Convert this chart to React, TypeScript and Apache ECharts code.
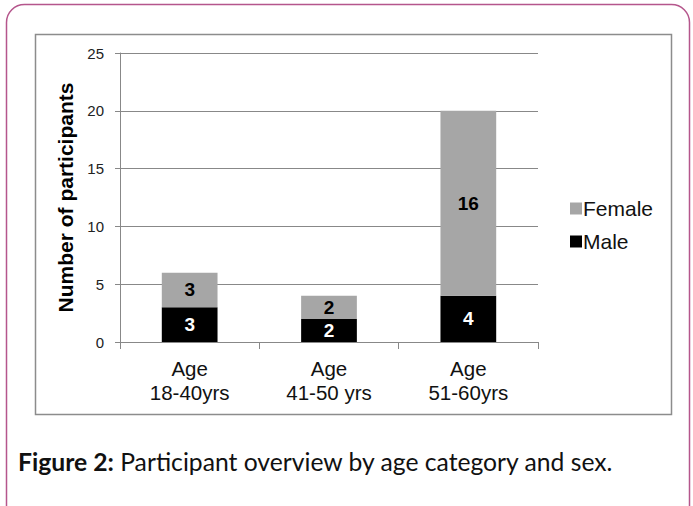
import React, { useEffect, useRef } from "react";
import * as echarts from "echarts";

const categories = ["Age\n18-40yrs", "Age\n41-50 yrs", "Age\n51-60yrs"];
const maleValues = [3, 2, 4];
const femaleValues = [3, 2, 16];
const seriesNames = ["Male", "Female"];
const captionBold = "Figure 2:";
const captionText = " Participant overview by age category and sex.";

export default function App() {
  const ref = useRef<HTMLDivElement>(null);
  useEffect(() => {
    if (!ref.current) return;
    const chart = echarts.init(ref.current, undefined, { renderer: "svg" });
    const font = "'Liberation Sans', Arial, sans-serif";
    chart.setOption({
      animation: false,
      backgroundColor: "#ffffff",
      textStyle: { fontFamily: font },
      graphic: [
        {
          type: "rect",
          shape: { x: 6.5, y: 4.5, width: 683, height: 520, r: 18 },
          style: { fill: "none", stroke: "#b5568c", lineWidth: 1.5 },
          z: 0,
        },
        {
          type: "rect",
          shape: { x: 35.5, y: 34.5, width: 636, height: 380 },
          style: { fill: "none", stroke: "#8c8c8c", lineWidth: 1.5 },
          z: 0,
        },
        {
          type: "text",
          x: 18,
          y: 461,
          style: {
            text: `{b|${captionBold}}{n|${captionText}}`,
            verticalAlign: "middle",
            rich: {
              b: { fontFamily: "Lato, 'Open Sans', sans-serif", fontWeight: "bold", fontSize: 24.7, fill: "#111" },
              n: { fontFamily: "Lato, 'Open Sans', sans-serif", fontSize: 24.7, fill: "#111" },
            },
          },
        },
      ],
      legend: {
        orient: "vertical",
        left: 565,
        top: 193,
        data: ["Female", "Male"],
        icon: "rect",
        itemWidth: 12,
        itemHeight: 12,
        itemGap: 12,
        textStyle: { fontSize: 21, color: "#111", fontFamily: font, padding: [0, 0, 0, -4] },
      },
      grid: { left: 120, right: 155, top: 53, bottom: 164, containLabel: false },
      xAxis: {
        type: "category",
        data: categories,
        axisLine: { lineStyle: { color: "#888", width: 1 } },
        axisTick: { show: true, length: 7, lineStyle: { color: "#888" } },
        axisLabel: { fontSize: 20.5, color: "#111", lineHeight: 24, margin: 14, fontFamily: font },
      },
      yAxis: {
        type: "value",
        min: 0,
        max: 25,
        interval: 5,
        name: "Number of participants",
        nameLocation: "middle",
        nameGap: 40,
        nameTextStyle: { fontSize: 21, fontWeight: "bold", color: "#000", fontFamily: font },
        axisLine: { show: true, lineStyle: { color: "#888", width: 1 } },
        axisTick: { show: true, length: 5, lineStyle: { color: "#888" } },
        splitLine: { lineStyle: { color: "#888", width: 1 } },
        axisLabel: { fontSize: 15, color: "#222", margin: 16, fontFamily: font },
      },
      series: [
        {
          name: seriesNames[0],
          type: "bar",
          stack: "total",
          data: maleValues,
          barWidth: "40%",
          itemStyle: { color: "#000000" },
          label: { show: true, position: "inside", color: "#fff", fontSize: 19, fontWeight: "bold", fontFamily: font },
        },
        {
          name: seriesNames[1],
          type: "bar",
          stack: "total",
          data: femaleValues,
          barWidth: "40%",
          itemStyle: { color: "#a6a6a6" },
          label: { show: true, position: "inside", color: "#000", fontSize: 19, fontWeight: "bold", fontFamily: font },
        },
      ],
    });
    return () => chart.dispose();
  }, []);
  return <div ref={ref} style={{ position: "absolute", left: 0, top: 0, width: 693, height: 506 }} />;
}
